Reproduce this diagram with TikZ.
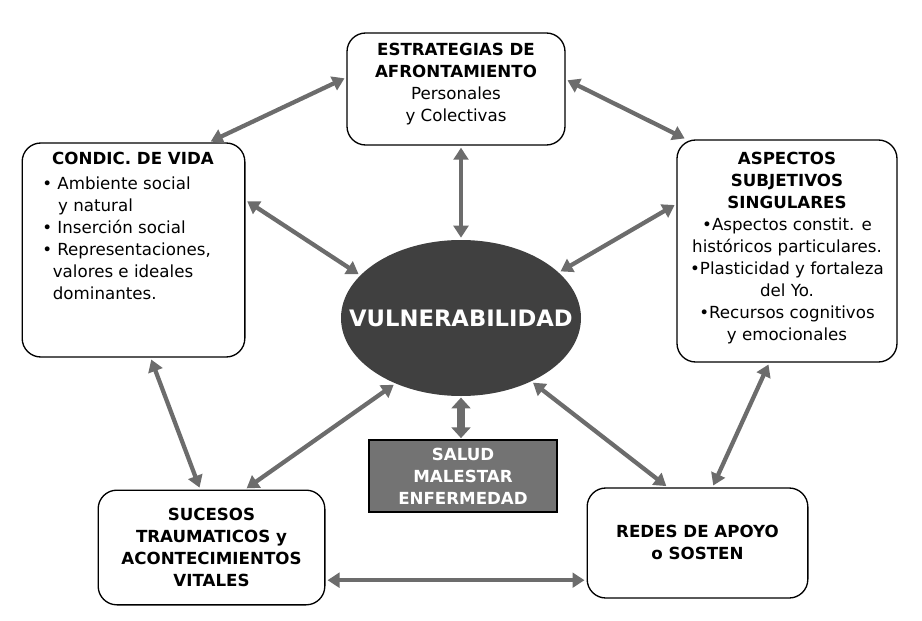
\documentclass[tikz,border=0pt]{standalone}
\usepackage{fontspec}
\setmainfont{DejaVu Sans}
\usetikzlibrary{arrows.meta,shapes.geometric}
\begin{document}
\begin{tikzpicture}[x=0.75pt,y=-0.75pt,
 box/.style={draw=black,line width=1pt,rounded corners=14pt,fill=white,inner sep=0pt},
 txt/.style={font=\fontsize{12.5}{16.5}\selectfont,inner sep=0pt},
 arr/.style={draw=gray!85!black,line width=3.2pt,{Triangle[length=9pt,width=11pt]}-{Triangle[length=9pt,width=11pt]},shorten <=1.5pt,shorten >=1.5pt}]
\useasboundingbox (0,0) rectangle (922,621);
\node[box,minimum width=163.5pt,minimum height=84pt] (T) at (456,89) {};
\node[box,minimum width=167pt,minimum height=160.5pt] (L) at (133.5,250) {};
\node[box,minimum width=165pt,minimum height=166.5pt] (R) at (787,251) {};
\node[box,minimum width=170pt,minimum height=86pt] (BL) at (211.5,547.5) {};
\node[box,minimum width=165.5pt,minimum height=82.5pt] (BR) at (697.5,543) {};
\node[ellipse,fill=black!75,minimum width=180pt,minimum height=117pt,inner sep=0pt] (E) at (461,318) {};
\node[txt,font=\fontsize{17}{20}\bfseries,text=white] (Et) at (461,318) {VULNERABILIDAD};
\node[draw=black,line width=0.8pt,fill=black!55,minimum width=141pt,minimum height=54pt,inner sep=0pt] (S) at (463,476) {};
\node[txt,align=center,text=white,font=\fontsize{12.5}{16.5}\bfseries] (St) at (463,476) {SALUD\\MALESTAR\\ENFERMEDAD};
\node[txt,align=center,anchor=north] (Tt) at (456,43) {\textbf{ESTRATEGIAS DE}\\\textbf{AFRONTAMIENTO}\\Personales\\y Colectivas};
\node[txt,anchor=north,font=\fontsize{12.5}{16.5}\bfseries] (Lh) at (133,152) {CONDIC. DE VIDA};
\node[txt,anchor=north west,align=left] (Lt) at (42,177) {• Ambiente social\\\ \ \ y natural\\• Inserción social\\• Representaciones,\\\ \ valores e ideales\\\ \ dominantes.};
\node[txt,anchor=north,align=center] (Rt) at (787,152) {\textbf{ASPECTOS}\\\textbf{SUBJETIVOS}\\\textbf{SINGULARES}\\•Aspectos constit. e\\históricos particulares.\\•Plasticidad y fortaleza\\del Yo.\\•Recursos cognitivos\\y emocionales};
\node[txt,align=center,font=\fontsize{12.5}{16.5}\bfseries] (BLt) at (211.5,547.5) {SUCESOS\\TRAUMATICOS y\\ACONTECIMIENTOS\\VITALES};
\node[txt,align=center,font=\fontsize{12.5}{16.5}\bfseries] (BRt) at (697.5,542) {REDES DE APOYO\\o SOSTEN};
\draw[arr] (L.55) -- (T.174);
\draw[arr] (T.5) -- (R.132);
\draw[arr] (E.north |- T.south) -- (E.north);
\draw[arr] (L.24) -- (E.157);
\draw[arr] (R.157) -- (E.25);
\draw[arr] (L.-81) -- (BL.101);
\draw[arr] (R.261) -- (BR.75);
\draw[arr] (E.225) -- (BL.60);
\draw[arr] (E.-42) -- (BR.118);
\draw[arr] (BL.-16) -- (BL.-16 -| BR.west);
\draw[draw=gray!85!black,line width=6pt,{Triangle[length=8pt,width=14pt]}-{Triangle[length=8pt,width=14pt]},shorten <=1pt,shorten >=1pt] (E.south) -- (E.south |- S.north);
\end{tikzpicture}
\end{document}
